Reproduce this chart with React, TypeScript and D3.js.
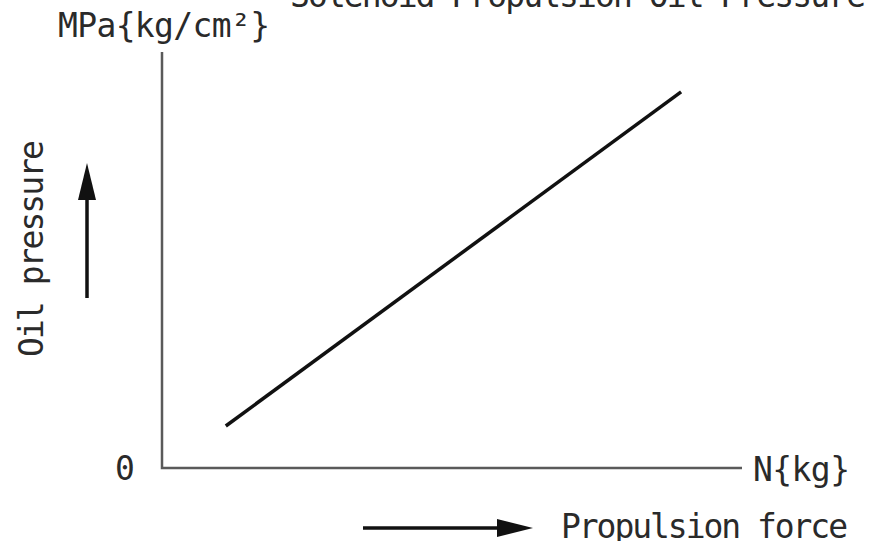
import React from "react";
import * as d3 from "d3";

// Schematic relation: propulsion force (x) vs oil pressure (y), relative units 0..100
const propulsionForce = [11.0, 89.5];
const oilPressure = [10.1, 90.4];

const titleText = "Solenoid Propulsion Oil Pressure";
const yUnitLabel = "MPa{kg/cm²}";
const xUnitLabel = "N{kg}";
const originLabel = "0";
const yAxisTitle = "Oil pressure";
const xAxisTitle = "Propulsion force";

const W = 871;
const H = 541;
const FONT = "'DejaVu Sans Mono', monospace";
const TEXT_COLOR = "#2a2a2a";

export default function App() {
  const x = d3.scaleLinear().domain([0, 100]).range([162, 742]);
  const y = d3.scaleLinear().domain([0, 100]).range([468, 52]);

  const pts: [number, number][] = propulsionForce.map((f, i) => [f, oilPressure[i]]);
  const line = d3
    .line<[number, number]>()
    .x((d) => x(d[0]))
    .y((d) => y(d[1]));

  const axisPath = d3.path();
  axisPath.moveTo(x(0), y(100));
  axisPath.lineTo(x(0), y(0));
  axisPath.lineTo(x(100), y(0));

  const textProps = {
    fontFamily: FONT,
    fontSize: 33,
    fill: TEXT_COLOR,
    lengthAdjust: "spacing" as const,
  };

  return (
    <svg
      width={W}
      height={H}
      viewBox={`0 0 ${W} ${H}`}
      style={{ position: "fixed", left: 0, top: 0, background: "#fff", overflow: "hidden" }}
    >
      <rect x={0} y={0} width={W} height={H} fill="#fff" />
      {/* Title, mostly cut off at the top */}
      <text x={290} y={7} textLength={576} {...textProps}>
        {titleText}
      </text>
      {/* Y unit label */}
      <text x={58} y={37} textLength={212} {...textProps}>
        {yUnitLabel}
      </text>
      {/* Axes */}
      <path d={axisPath.toString()} fill="none" stroke="#5a5a5a" strokeWidth={2.5} />
      {/* Data line */}
      <path d={line(pts) || ""} fill="none" stroke="#111" strokeWidth={3.5} strokeLinecap="butt" />
      {/* Origin label */}
      <text x={115} y={480} {...textProps}>
        {originLabel}
      </text>
      {/* X unit label */}
      <text x={753} y={481} textLength={97} {...textProps}>
        {xUnitLabel}
      </text>
      {/* Y axis title (rotated) */}
      <text
        transform={`translate(43,357) rotate(-90)`}
        textLength={217}
        {...textProps}
      >
        {yAxisTitle}
      </text>
      {/* Vertical arrow */}
      <line x1={87} y1={298} x2={87} y2={196} stroke="#111" strokeWidth={3.5} />
      <path d="M87,163 L78,200 L96,200 Z" fill="#111" />
      {/* X axis title */}
      <text x={561} y={538} textLength={287} {...textProps}>
        {xAxisTitle}
      </text>
      {/* Horizontal arrow */}
      <line x1={363} y1={528} x2={500} y2={528} stroke="#111" strokeWidth={3.5} />
      <path d="M533,528 L497,519 L497,537 Z" fill="#111" />
    </svg>
  );
}
